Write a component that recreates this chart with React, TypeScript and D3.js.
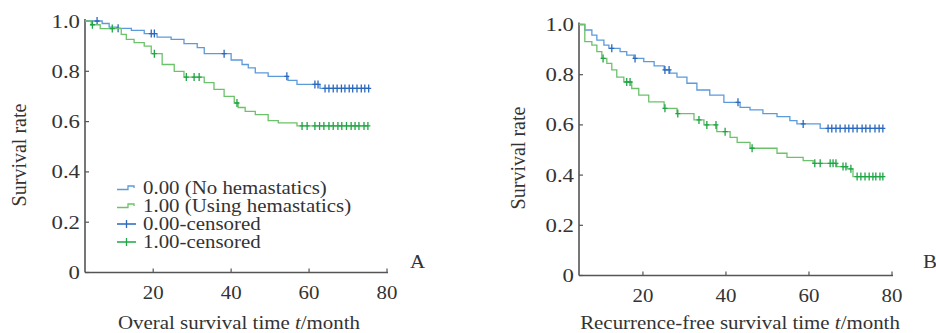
import React, { useRef, useEffect } from 'react';
import * as d3 from 'd3';

const xTicks = [20, 40, 60, 80];
const yTicks = [0, 0.2, 0.4, 0.6, 0.8, 1.0];
const legendLabels = ['0.00 (No hemastatics)', '1.00 (Using hemastatics)', '0.00-censored', '1.00-censored'];

// overall survival, [month, survival after the drop]
const osNoSteps = [[6.9, 0.99], [8.7, 0.976], [10.8, 0.971], [14.4, 0.963], [17.7, 0.95], [21.0, 0.936], [24.6, 0.927], [27.9, 0.91], [31.3, 0.894], [33.1, 0.87], [40.0, 0.845], [42.8, 0.827], [44.4, 0.814], [46.2, 0.794], [49.5, 0.78], [54.6, 0.764], [56.9, 0.748], [62.8, 0.732]];
const osNoCensored = [5.6, 11.0, 19.5, 20.3, 38.2, 54.3, 61.5, 62.3, 64.1, 65.1, 66.2, 67.2, 68.3, 69.2, 70.3, 71.2, 72.3, 73.4, 74.3, 75.3];
const osUseSteps = [[4.1, 0.985], [6.4, 0.97], [11.8, 0.947], [13.1, 0.927], [15.1, 0.914], [17.7, 0.9], [19.5, 0.87], [22.3, 0.827], [25.4, 0.8], [27.9, 0.777], [33.1, 0.755], [35.6, 0.728], [38.2, 0.7], [40.8, 0.674], [41.8, 0.656], [43.6, 0.641], [46.2, 0.628], [49.5, 0.604], [52.1, 0.595], [56.9, 0.583]];
const osUseCensored = [4.4, 9.5, 20.3, 28.5, 30.5, 31.8, 41.5, 58.2, 59.5, 61.5, 62.7, 63.8, 65.1, 66.2, 67.4, 68.4, 69.6, 70.8, 71.8, 72.8, 74.1, 75.1];

// recurrence-free survival
const rfsNoSteps = [[6.0, 0.978], [7.7, 0.958], [8.9, 0.938], [10.6, 0.918], [11.8, 0.905], [14.5, 0.892], [16.1, 0.878], [17.8, 0.865], [20.2, 0.852], [22.7, 0.835], [25.1, 0.819], [26.5, 0.806], [28.2, 0.79], [30.6, 0.766], [33.0, 0.739], [36.1, 0.719], [39.5, 0.69], [43.4, 0.67], [45.8, 0.66], [48.9, 0.645], [52.3, 0.633], [55.4, 0.617], [57.1, 0.604], [62.7, 0.586]];
const rfsNoCensored = [12.5, 18.1, 25.3, 26.3, 42.9, 58.6, 64.6, 65.5, 66.5, 67.5, 68.7, 69.6, 70.6, 71.6, 72.8, 73.7, 74.7, 75.9, 76.9, 77.8];
const rfsUseSteps = [[6.0, 0.932], [7.7, 0.918], [8.9, 0.892], [10.1, 0.865], [11.3, 0.845], [12.5, 0.819], [13.7, 0.79], [15.4, 0.771], [17.3, 0.745], [19.0, 0.719], [21.4, 0.692], [25.1, 0.666], [28.2, 0.645], [32.3, 0.62], [34.7, 0.6], [37.8, 0.573], [41.0, 0.55], [42.7, 0.53], [45.8, 0.507], [52.3, 0.487], [54.7, 0.471], [58.6, 0.458], [61.0, 0.447], [66.7, 0.434], [69.2, 0.425], [70.6, 0.394]];
const rfsUseCensored = [10.4, 16.1, 16.9, 25.3, 28.4, 33.5, 35.4, 37.6, 39.8, 46.3, 61.4, 62.7, 65.1, 65.8, 66.5, 68.2, 68.9, 70.1, 71.6, 72.5, 73.5, 74.5, 75.4, 76.1, 77.1, 77.8];

const blueLine = '#5b9bdb';
const blueMark = '#2a68bd';
const greenLine = '#6cc26a';
const greenMark = '#1fa546';
const axisColor = '#555';
const textColor = '#333';
const font = '"Liberation Serif", "Times New Roman", serif';

function survivalAt(steps, t) {
  let s = 1;
  for (const [time, v] of steps) if (time <= t) s = v;
  return s;
}

function label(g, text, x, y, anchor, size = 19, sx = 1.1) {
  return g.append('text')
    .attr('transform', `translate(${x},${y}) scale(${sx},1)`)
    .attr('text-anchor', anchor)
    .attr('font-family', font)
    .attr('font-size', size)
    .attr('fill', textColor)
    .text(text);
}

function drawPanel(svg, p) {
  const g = svg.append('g');
  const x = d3.scaleLinear().domain(p.xDomain).range([p.left, p.right]);
  const y = d3.scaleLinear().domain([0, 1]).range([p.bottom, p.top]);

  // axes
  g.append('line').attr('x1', p.left).attr('x2', p.right + 1).attr('y1', p.bottom).attr('y2', p.bottom)
    .attr('stroke', axisColor).attr('stroke-width', 1.6);
  g.append('line').attr('x1', p.left).attr('x2', p.left).attr('y1', p.bottom).attr('y2', p.top - 2)
    .attr('stroke', axisColor).attr('stroke-width', 1.6);

  xTicks.forEach(t => {
    g.append('line').attr('x1', x(t)).attr('x2', x(t)).attr('y1', p.bottom).attr('y2', p.bottom - 4)
      .attr('stroke', axisColor).attr('stroke-width', 1.2);
    label(g, String(t), x(t), p.bottom + 26, 'middle');
  });
  yTicks.forEach(t => {
    g.append('line').attr('x1', p.left).attr('x2', p.left + 4).attr('y1', y(t)).attr('y2', y(t))
      .attr('stroke', axisColor).attr('stroke-width', 1.2);
    label(g, t === 0 ? '0' : d3.format('.1f')(t), p.left - 5, y(t) + 6.5, 'end', 19, 1.2);
  });

  // titles
  const xt = label(g, '', p.xTitleX, 328.5, 'middle');
  p.xTitle.forEach(([s, italic]) => xt.append('tspan').attr('font-style', italic ? 'italic' : 'normal').text(s));
  g.append('text')
    .attr('transform', `translate(${p.yTitleX},${p.yTitleY}) rotate(-90)`)
    .attr('text-anchor', 'middle').attr('font-family', font).attr('font-size', 20).attr('fill', textColor)
    .text('Survival rate');
  label(g, p.letter, p.letterX, 268, 'start');

  const line = d3.line().x(d => x(d[0])).y(d => y(d[1])).curve(d3.curveStepAfter);

  p.series.forEach(s => {
    const pts = [[p.xDomain[0], 1], ...s.steps];
    const last = s.censored[s.censored.length - 1];
    pts.push([last, pts[pts.length - 1][1]]);
    g.append('path').attr('d', line(pts)).attr('fill', 'none')
      .attr('stroke', s.line).attr('stroke-width', 1.3);
    s.censored.forEach(t => {
      const cx = x(t), cy = y(survivalAt(s.steps, t));
      g.append('path').attr('d', `M${cx},${cy - 4}V${cy + 4}M${cx - 2.5},${cy}H${cx + 2.5}`)
        .attr('stroke', s.mark).attr('stroke-width', 1.3).attr('fill', 'none');
    });
  });
  return g;
}

function App() {
  const svgRef = useRef(null);

  useEffect(() => {
    const svg = d3.select(svgRef.current);
    svg.selectAll('*').remove();
    svg.append('rect').attr('width', 936).attr('height', 333).attr('fill', '#fff');

    drawPanel(svg, {
      xDomain: [2.5, 80], left: 85, right: 387, top: 21, bottom: 272.5,
      xTitle: [['Overal survival time '], ['t', true], ['/month']], xTitleX: 239,
      yTitleX: 26, yTitleY: 155, letter: 'A', letterX: 410,
      series: [
        { steps: osNoSteps, censored: osNoCensored, line: blueLine, mark: blueMark },
        { steps: osUseSteps, censored: osUseCensored, line: greenLine, mark: greenMark },
      ],
    });
    drawPanel(svg, {
      xDomain: [4.6, 80], left: 579, right: 892, top: 24.5, bottom: 275.5,
      xTitle: [['Recurrence-free survival time '], ['t', true], ['/month']], xTitleX: 740,
      yTitleX: 525, yTitleY: 158, letter: 'B', letterX: 923,
      series: [
        { steps: rfsNoSteps, censored: rfsNoCensored, line: blueLine, mark: blueMark },
        { steps: rfsUseSteps, censored: rfsUseCensored, line: greenLine, mark: greenMark },
      ],
    });

    // legend in panel A
    const lg = svg.append('g');
    const colors = [blueLine, greenLine, blueMark, greenMark];
    legendLabels.forEach((text, i) => {
      const yy = 188 + i * 18;
      if (i < 2) {
        lg.append('path').attr('d', `M117,${yy + 1.5}H128V${yy - 2}H134V${yy}`)
          .attr('fill', 'none').attr('stroke', colors[i]).attr('stroke-width', 1.3);
      } else {
        lg.append('path').attr('d', `M117,${yy}H136M126.5,${yy - 4}V${yy + 4}`)
          .attr('fill', 'none').attr('stroke', colors[i]).attr('stroke-width', 1.3);
      }
      label(lg, text, 143, yy + 6, 'start', 18, 1.16);
    });
  }, []);

  return (
    <svg ref={svgRef} width={936} height={333}
      style={{ position: 'absolute', left: 0, top: 0, background: '#fff' }} />
  );
}

export default App;
